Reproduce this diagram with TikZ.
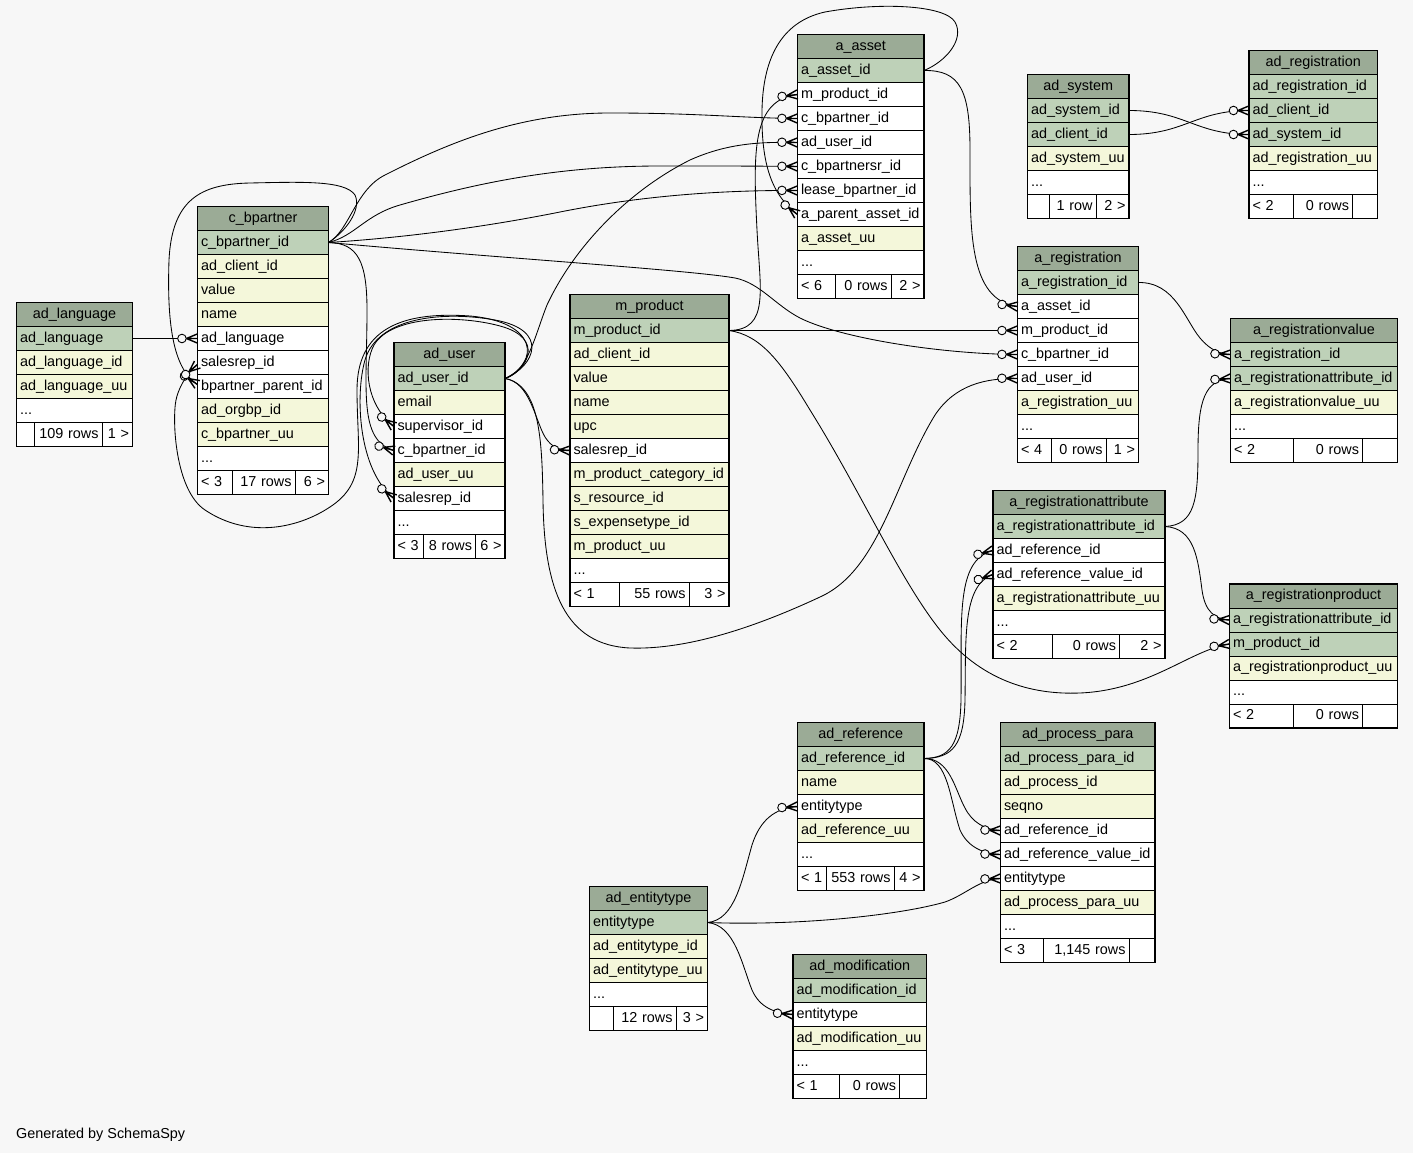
\documentclass[tikz,border=0pt]{standalone}
\usepackage{fontspec}
\setmainfont{Liberation Sans}
\usetikzlibrary{decorations.markings}
\definecolor{hdrc}{HTML}{9BAB96}
\definecolor{pkc}{HTML}{BED1B8}
\definecolor{idxc}{HTML}{F4F7DA}
\definecolor{bgc}{HTML}{F7F7F7}
\newcommand\tabfont{\fontsize{14.4}{17}\selectfont}
\newcommand\tdots{...}
\newcommand\crowfoot{\draw[line width=1.4pt] (-11pt,0pt) -- (0pt,4.6pt) (-11pt,0pt) -- (0pt,-4.6pt) (-11pt,0pt) -- (0pt,0pt);
  \draw[line width=0.9pt, fill=bgc] (-15.5pt,0pt) circle (4.3pt);}
\tikzset{
  cell/.style={draw=black, line width=0.8pt, anchor=north west, minimum height=24,
    inner xsep=3.5pt, inner ysep=0pt, outer sep=0pt, text height=10.3pt, text depth=3.2pt,
    align=left, font=\tabfont},
  hdr/.style={cell, fill=hdrc, align=center},
  outerframe/.style={draw=black, line width=1.2pt},
  rel/.style={draw=black, line width=0.85pt},
  fk/.style={rel, postaction={decorate, decoration={markings, mark=at position -0.05pt with {\crowfoot}}}},
}
\newcommand\dbtable[6]{%
  \pgfmathsetmacro\dbtw{#5-7}%
  \node[hdr, minimum width=#5, text width=\dbtw pt] (#1) at (#3,#4) {#2};
  \foreach[count=\i] \cn/\cf/\ct in {#6}{%
    \node[cell, fill=\cf, minimum width=#5, text width=\dbtw pt] (#1-\cn) at (#3,{#4+24*\i}) {\ct};
  }%
}
\newcommand\dbfoot[9]{%
  \pgfmathsetmacro\dbwa{#4-#2}\pgfmathsetmacro\dbwb{#5-#4}\pgfmathsetmacro\dbwc{#6-#5}%
  \pgfmathsetmacro\dbta{#4-#2-7}\pgfmathsetmacro\dbtb{#5-#4-7}\pgfmathsetmacro\dbtc{#6-#5-7}%
  \node[cell, fill=white, minimum width=\dbwa, text width=\dbta pt, align=left] (#1-f1) at (#2,#3) {#7};
  \node[cell, fill=white, minimum width=\dbwb, text width=\dbtb pt, align=right] (#1-f2) at (#4,#3) {#8};
  \node[cell, fill=white, minimum width=\dbwc, text width=\dbtc pt, align=right] (#1-f3) at (#5,#3) {#9};
  \draw[outerframe] (#1.north west) rectangle (#1-f3.south east);
}
\begin{document}
\catcode`\_=12
\hyphenpenalty=10000 \exhyphenpenalty=10000
\begin{tikzpicture}[x=1pt,y=-1pt]
\useasboundingbox (0,0) rectangle (1413,1153);
\fill[bgc] (0,0) rectangle (1413,1153);

% ---------- tables ----------
\dbtable{al}{ad_language}{16.5}{302.5}{116}{ad_language/pkc/ad_language, ad_language_id/idxc/ad_language_id, ad_language_uu/idxc/ad_language_uu, more/white/\tdots}
\dbfoot{al}{16.5}{422.5}{34}{102}{132.5}{}{109~rows}{1~>}

\dbtable{cb}{c_bpartner}{197.5}{206.5}{131}{c_bpartner_id/pkc/c_bpartner_id, ad_client_id/idxc/ad_client_id, value/idxc/value, name/idxc/name, ad_language/white/ad_language, salesrep_id/white/salesrep_id, bpartner_parent_id/white/bpartner_parent_id, ad_orgbp_id/idxc/ad_orgbp_id, c_bpartner_uu/idxc/c_bpartner_uu, more/white/\tdots}
\dbfoot{cb}{197.5}{470.5}{232}{295}{328.5}{<~3}{17~rows}{6~>}

\dbtable{au}{ad_user}{394}{342.5}{111}{ad_user_id/pkc/ad_user_id, email/idxc/email, supervisor_id/white/supervisor_id, c_bpartner_id/white/c_bpartner_id, ad_user_uu/idxc/ad_user_uu, salesrep_id/white/salesrep_id, more/white/\tdots}
\dbfoot{au}{394}{534.5}{423.5}{475.5}{505}{<~3}{8~rows}{6~>}

\dbtable{mp}{m_product}{570}{294.5}{159}{m_product_id/pkc/m_product_id, ad_client_id/idxc/ad_client_id, value/idxc/value, name/idxc/name, upc/idxc/upc, salesrep_id/white/salesrep_id, m_product_category_id/idxc/m_product_category_id, s_resource_id/idxc/s_resource_id, s_expensetype_id/idxc/s_expensetype_id, m_product_uu/idxc/m_product_uu, more/white/\tdots}
\dbfoot{mp}{570}{582.5}{619}{689}{729}{<~1}{55~rows}{3~>}

\dbtable{aa}{a_asset}{797.5}{34.5}{126.5}{a_asset_id/pkc/a_asset_id, m_product_id/white/m_product_id, c_bpartner_id/white/c_bpartner_id, ad_user_id/white/ad_user_id, c_bpartnersr_id/white/c_bpartnersr_id, lease_bpartner_id/white/lease_bpartner_id, a_parent_asset_id/white/a_parent_asset_id, a_asset_uu/idxc/a_asset_uu, more/white/\tdots}
\dbfoot{aa}{797.5}{274.5}{835}{891}{924}{<~6}{0~rows}{2~>}

\dbtable{as}{ad_system}{1027.5}{74.5}{101.5}{ad_system_id/pkc/ad_system_id, ad_client_id/pkc/ad_client_id, ad_system_uu/idxc/ad_system_uu, more/white/\tdots}
\dbfoot{as}{1027.5}{194.5}{1049}{1096}{1129}{}{1~row}{2~>}

\dbtable{rg}{ad_registration}{1249}{50.5}{128.5}{ad_registration_id/pkc/ad_registration_id, ad_client_id/pkc/ad_client_id, ad_system_id/pkc/ad_system_id, ad_registration_uu/idxc/ad_registration_uu, more/white/\tdots}
\dbfoot{rg}{1249}{194.5}{1293}{1352.5}{1377.5}{<~2}{0~rows}{}

\dbtable{ar}{a_registration}{1017.5}{246.5}{121}{a_registration_id/pkc/a_registration_id, a_asset_id/white/a_asset_id, m_product_id/white/m_product_id, c_bpartner_id/white/c_bpartner_id, ad_user_id/white/ad_user_id, a_registration_uu/idxc/a_registration_uu, more/white/\tdots}
\dbfoot{ar}{1017.5}{438.5}{1051}{1106}{1138.5}{<~4}{0~rows}{1~>}

\dbtable{rv}{a_registrationvalue}{1230.5}{318.5}{167}{a_registration_id/pkc/a_registration_id, a_registrationattribute_id/pkc/a_registrationattribute_id, a_registrationvalue_uu/idxc/a_registrationvalue_uu, more/white/\tdots}
\dbfoot{rv}{1230.5}{438.5}{1293.5}{1362.5}{1397.5}{<~2}{0~rows}{}

\dbtable{ra}{a_registrationattribute}{993}{490.5}{172}{a_registrationattribute_id/pkc/a_registrationattribute_id, ad_reference_id/white/ad_reference_id, ad_reference_value_id/white/ad_reference_value_id, a_registrationattribute_uu/idxc/a_registrationattribute_uu, more/white/\tdots}
\dbfoot{ra}{993}{634.5}{1052.5}{1119.5}{1165}{<~2}{0~rows}{2~>}

\dbtable{rp}{a_registrationproduct}{1229.5}{584}{168}{a_registrationattribute_id/pkc/a_registrationattribute_id, m_product_id/pkc/m_product_id, a_registrationproduct_uu/idxc/a_registrationproduct_uu, more/white/\tdots}
\dbfoot{rp}{1229.5}{704}{1293}{1362.5}{1397.5}{<~2}{0~rows}{}

\dbtable{ad}{ad_reference}{797.5}{722.5}{126.5}{ad_reference_id/pkc/ad_reference_id, name/idxc/name, entitytype/white/entitytype, ad_reference_uu/idxc/ad_reference_uu, more/white/\tdots}
\dbfoot{ad}{797.5}{866.5}{826}{894}{924}{<~1}{553~rows}{4~>}

\dbtable{pp}{ad_process_para}{1000.5}{722.5}{154.5}{ad_process_para_id/pkc/ad_process_para_id, ad_process_id/idxc/ad_process_id, seqno/idxc/seqno, ad_reference_id/white/ad_reference_id, ad_reference_value_id/white/ad_reference_value_id, entitytype/white/entitytype, ad_process_para_uu/idxc/ad_process_para_uu, more/white/\tdots}
\dbfoot{pp}{1000.5}{938.5}{1043}{1129}{1155}{<~3}{1,145~rows}{}

\dbtable{et}{ad_entitytype}{589.5}{886.5}{118}{entitytype/pkc/entitytype, ad_entitytype_id/idxc/ad_entitytype_id, ad_entitytype_uu/idxc/ad_entitytype_uu, more/white/\tdots}
\dbfoot{et}{589.5}{1006.5}{613}{676}{707.5}{}{12~rows}{3~>}

\dbtable{am}{ad_modification}{793}{954.5}{133.5}{ad_modification_id/pkc/ad_modification_id, entitytype/white/entitytype, ad_modification_uu/idxc/ad_modification_uu, more/white/\tdots}
\dbfoot{am}{793}{1074.5}{839}{899.5}{926.5}{<~1}{0~rows}{}

% ---------- relationships ----------
\draw[fk] (al-ad_language.east) -- (cb-ad_language.west);

\draw[fk] (cb-c_bpartner_id.east) .. controls (345,232) and (362,210) .. (355,195)
  .. controls (345,180) and (300,182) .. (250,183)
  .. controls (200,184) and (172,200) .. (169,260)
  .. controls (167,320) and (172,368) .. ([yshift=2pt]cb-bpartner_parent_id.west);

\draw[fk] (cb-c_bpartner_id.east) .. controls (358,243) and (367,262) .. (367,310)
  .. controls (367,390) and (358,440) .. (au-c_bpartner_id.west);

\draw[fk] (cb-c_bpartner_id.east) .. controls (350,230) and (355,190) .. (385,175)
  .. controls (450,142) and (520,113) .. (610,113)
  .. controls (700,113) and (740,118) .. (aa-c_bpartner_id.west);

\draw[fk] (cb-c_bpartner_id.east) .. controls (355,236) and (365,215) .. (400,205)
  .. controls (480,182) and (560,166) .. (660,166)
  .. controls (720,166) and (760,166) .. (aa-c_bpartnersr_id.west);

\draw[fk] (cb-c_bpartner_id.east) .. controls (400,238) and (480,228) .. (560,212)
  .. controls (640,196) and (720,190) .. (aa-lease_bpartner_id.west);

\draw[fk] (cb-c_bpartner_id.east) .. controls (500,258) and (690,270) .. (735,278)
  .. controls (760,283) and (775,305) .. (800,318)
  .. controls (840,338) and (940,354) .. (ar-c_bpartner_id.west);

\draw[fk] (au-ad_user_id.east) .. controls (540,362) and (538,322) .. (470,316)
  .. controls (400,311) and (357,330) .. (357,390)
  .. controls (357,450) and (368,482) .. (330,507)
  .. controls (300,527) and (250,540) .. (205,510)
  .. controls (175,490) and (172,420) .. (176,400)
  .. controls (178,390) and (185,375) .. ([yshift=-2pt]cb-salesrep_id.west);

\draw[fk] (au-ad_user_id.east) .. controls (528,370) and (545,338) .. (500,326)
  .. controls (460,315) and (392,315) .. (374,345)
  .. controls (363,365) and (366,405) .. (au-supervisor_id.west);

\draw[fk] (au-ad_user_id.east) .. controls (535,366) and (550,330) .. (495,320)
  .. controls (445,311) and (378,316) .. (365,360)
  .. controls (355,395) and (358,470) .. (au-salesrep_id.west);

\draw[fk] (au-ad_user_id.east) .. controls (530,382) and (535,420) .. (545,437)
  .. controls (552,448) and (560,450) .. (mp-salesrep_id.west);

\draw[fk] (au-ad_user_id.east) .. controls (528,372) and (535,335) .. (547,305)
  .. controls (575,245) and (630,190) .. (690,160)
  .. controls (730,142) and (765,142) .. (aa-ad_user_id.west);

\draw[fk] (au-ad_user_id.east) .. controls (540,385) and (542,440) .. (543,500)
  .. controls (544,590) and (565,645) .. (630,648)
  .. controls (690,650) and (760,625) .. (820,597)
  .. controls (880,570) and (895,480) .. (935,415)
  .. controls (955,385) and (985,378) .. (ar-ad_user_id.west);

\draw[fk] (mp-m_product_id.east) .. controls (770,330) and (760,290) .. (757,230)
  .. controls (753,150) and (752,100) .. (aa-m_product_id.west);

\draw[fk] (mp-m_product_id.east) -- (ar-m_product_id.west);

\draw[fk] (mp-m_product_id.east) .. controls (760,335) and (780,360) .. (810,410)
  .. controls (860,490) and (900,580) .. (940,630)
  .. controls (980,680) and (1030,695) .. (1080,693)
  .. controls (1150,690) and (1190,650) .. (rp-m_product_id.west);

\draw[fk] (aa-a_asset_id.east) .. controls (960,70) and (970,90) .. (970,150)
  .. controls (970,230) and (968,300) .. (ar-a_asset_id.west);

\draw[fk] (aa-a_asset_id.east) .. controls (945,62) and (965,40) .. (955,22)
  .. controls (945,5) and (880,2) .. (825,12)
  .. controls (780,22) and (763,60) .. (762,110)
  .. controls (761,165) and (772,195) .. (aa-a_parent_asset_id.west);

\draw[fk] (ar-a_registration_id.east) .. controls (1175,282) and (1185,320) .. (1200,338)
  .. controls (1210,350) and (1220,354) .. (rv-a_registration_id.west);

\draw[fk] (ra-a_registrationattribute_id.east) .. controls (1195,525) and (1198,500) .. (1198,450)
  .. controls (1198,400) and (1205,380) .. (rv-a_registrationattribute_id.west);

\draw[fk] (ra-a_registrationattribute_id.east) .. controls (1195,528) and (1198,560) .. (1202,590)
  .. controls (1205,612) and (1215,619) .. (rp-a_registrationattribute_id.west);

\draw[fk] (ad-ad_reference_id.east) .. controls (950,758) and (960,745) .. (961,700)
  .. controls (962,620) and (955,560) .. (ra-ad_reference_id.west);

\draw[fk] (ad-ad_reference_id.east) .. controls (953,758) and (964,745) .. (965,700)
  .. controls (966,640) and (962,585) .. (ra-ad_reference_value_id.west);

\draw[fk] (ad-ad_reference_id.east) .. controls (950,758) and (955,790) .. (965,808)
  .. controls (972,822) and (985,830) .. (pp-ad_reference_id.west);

\draw[fk] (ad-ad_reference_id.east) .. controls (948,758) and (950,800) .. (960,830)
  .. controls (968,848) and (985,854) .. (pp-ad_reference_value_id.west);

\draw[fk] (et-entitytype.east) .. controls (735,920) and (742,880) .. (752,845)
  .. controls (760,820) and (775,808) .. (ad-entitytype.west);

\draw[fk] (et-entitytype.east) .. controls (800,926) and (900,915) .. (945,902)
  .. controls (965,895) and (980,879) .. (pp-entitytype.west);

\draw[fk] (et-entitytype.east) .. controls (735,925) and (742,965) .. (752,990)
  .. controls (760,1008) and (775,1013) .. (am-entitytype.west);

\draw[fk] (as-ad_system_id.east) .. controls (1185,110.5) and (1195,134.5) .. (rg-ad_system_id.west);
\draw[fk] (as-ad_client_id.east) .. controls (1185,134.5) and (1195,110.5) .. (rg-ad_client_id.west);

\node[anchor=base west, font=\tabfont, inner sep=0pt] (gen) at (16,1138) {Generated by SchemaSpy};
\end{tikzpicture}
\end{document}
